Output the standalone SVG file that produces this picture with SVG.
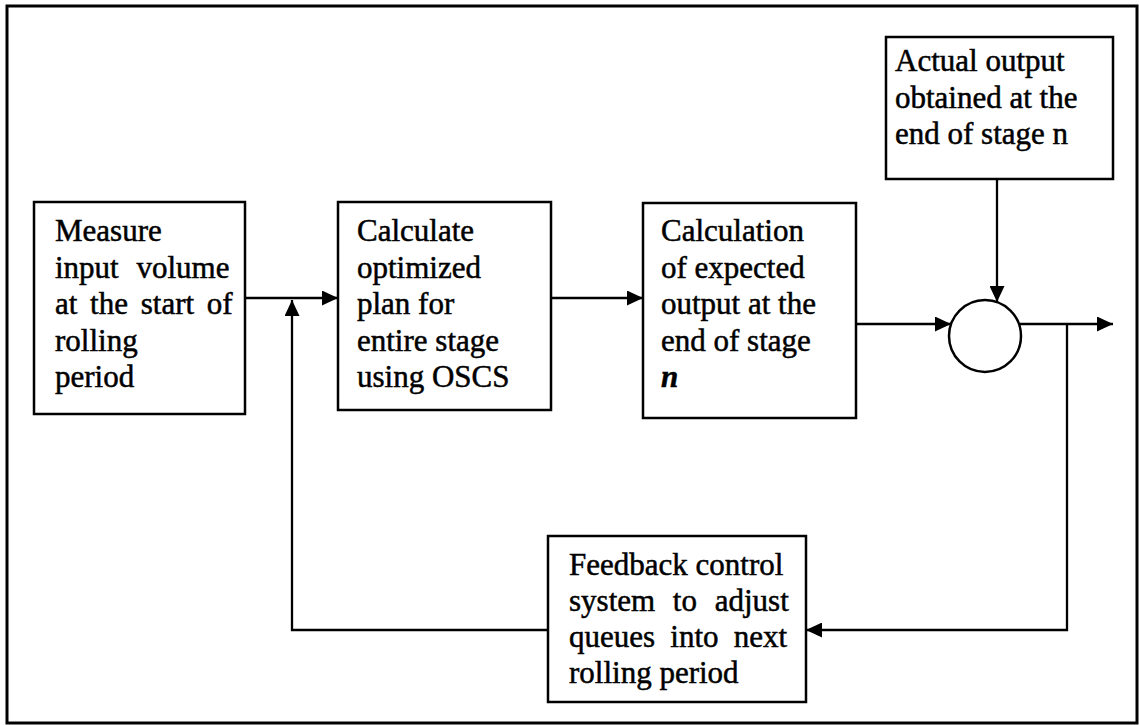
<svg xmlns="http://www.w3.org/2000/svg" width="1139" height="725" viewBox="0 0 1139 725">
<style>
.bx{fill:#fff;stroke:#000;stroke-width:2.5}
.t{font-family:"Liberation Serif","Times New Roman",serif;font-size:31px;fill:#000;stroke:#000;stroke-width:0.5}
.ln{fill:none;stroke:#000;stroke-width:2.3}
</style>
<defs>
<marker id="ah" markerUnits="userSpaceOnUse" markerWidth="17" markerHeight="15" refX="16" refY="7.5" orient="auto">
<path d="M0,0 L16,7.5 L0,15 Z" fill="#000"/>
</marker>
</defs>
<rect width="1139" height="725" fill="#fff"/>
<rect x="7" y="6" width="1130" height="717" fill="none" stroke="#000" stroke-width="3"/>

<g id="connectors">
<line class="ln" x1="245" y1="298" x2="338" y2="298" marker-end="url(#ah)"/>
<line class="ln" x1="551" y1="298" x2="643" y2="298" marker-end="url(#ah)"/>
<line class="ln" x1="856" y1="324" x2="951" y2="324" marker-end="url(#ah)"/>
<line class="ln" x1="1019" y1="324" x2="1113" y2="324" marker-end="url(#ah)"/>
<line class="ln" x1="997" y1="179" x2="997" y2="302" marker-end="url(#ah)"/>
<polyline class="ln" points="1067,324 1067,630 806,630" marker-end="url(#ah)"/>
<polyline class="ln" points="548,630 292,630 292,300" marker-end="url(#ah)"/>
</g>

<g id="node-measure">
<rect class="bx" x="34" y="202" width="211" height="212"/>
<text class="t" x="55" y="241">Measure</text>
<text class="t" x="55" y="277.5" word-spacing="10">input volume</text>
<text class="t" x="55" y="314" word-spacing="5">at the start of</text>
<text class="t" x="55" y="350.5">rolling</text>
<text class="t" x="55" y="387">period</text>
</g>

<g id="node-calculate">
<rect class="bx" x="338" y="202" width="213" height="208"/>
<text class="t" x="357" y="241">Calculate</text>
<text class="t" x="357" y="277.5">optimized</text>
<text class="t" x="357" y="314">plan for</text>
<text class="t" x="357" y="350.5">entire stage</text>
<text class="t" x="357" y="387">using OSCS</text>
</g>

<g id="node-expected">
<rect class="bx" x="643" y="203" width="213" height="215"/>
<text class="t" x="661" y="241">Calculation</text>
<text class="t" x="661" y="277.5">of expected</text>
<text class="t" x="661" y="314">output at the</text>
<text class="t" x="661" y="350.5">end of stage</text>
<text class="t" x="661" y="387" font-weight="bold" font-style="italic">n</text>
</g>

<g id="node-actual">
<rect class="bx" x="886" y="37" width="227" height="142"/>
<text class="t" x="895" y="71" font-size="33">Actual output</text>
<text class="t" x="895" y="107.5" font-size="33">obtained at the</text>
<text class="t" x="895" y="144" font-size="33">end of stage n</text>
</g>

<g id="node-sum">
<circle cx="985" cy="336" r="36" fill="#fff" stroke="#000" stroke-width="2.5"/>
</g>

<g id="node-feedback">
<rect class="bx" x="548" y="536" width="258" height="166"/>
<text class="t" x="569" y="575">Feedback control</text>
<text class="t" x="569" y="611" word-spacing="10">system to adjust</text>
<text class="t" x="569" y="647" word-spacing="7.5">queues into next</text>
<text class="t" x="569" y="683">rolling period</text>
</g>
</svg>
